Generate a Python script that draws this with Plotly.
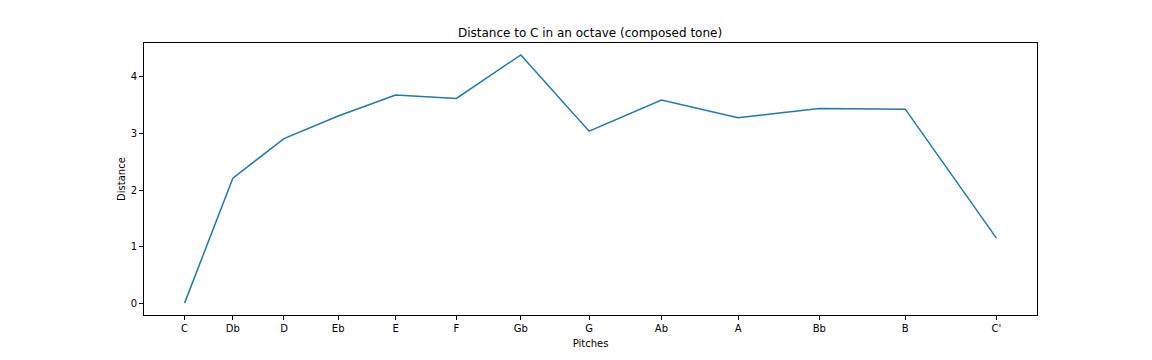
import plotly.graph_objects as go

pitches = ["C", "Db", "D", "Eb", "E", "F", "Gb", "G", "Ab", "A", "Bb", "B", "C'"]
freqs = [261.63, 277.18, 293.66, 311.13, 329.63, 349.23, 369.99, 392.00, 415.30, 440.00, 466.16, 493.88, 523.25]
distance = [0.0, 2.21, 2.91, 3.31, 3.68, 3.62, 4.39, 3.04, 3.59, 3.28, 3.44, 3.43, 1.15]

fig = go.Figure()
fig.add_trace(go.Scatter(x=freqs, y=distance, mode="lines",
                         line=dict(color="#1f77b4", width=1.5)))

span = freqs[-1] - freqs[0]
axis_common = dict(showline=True, linecolor="black", linewidth=1, mirror=True,
                   ticks="outside", ticklen=4, tickcolor="black", showgrid=False,
                   zeroline=False, tickfont=dict(size=10, color="black"))
fig.update_layout(
    width=1152, height=360,
    margin=dict(l=136, r=123, t=35, b=53),
    paper_bgcolor="white", plot_bgcolor="white",
    font=dict(family="DejaVu Sans", color="black"),
    showlegend=False,
    title=dict(text="Distance to C in an octave (composed tone)", x=582 / 1152,
               xanchor="center", y=1 - 25 / 360, yanchor="middle", font=dict(size=12)),
    xaxis=dict(range=[freqs[0] - 0.05 * span, freqs[-1] + 0.05 * span],
               tickvals=freqs, ticktext=pitches,
               title=dict(text="Pitches", font=dict(size=10), standoff=6), **axis_common),
    yaxis=dict(range=[-0.21, 4.60], tickvals=[0, 1, 2, 3, 4],
               title=dict(text="Distance", font=dict(size=10), standoff=3), **axis_common),
)
fig.write_html("out.html")
